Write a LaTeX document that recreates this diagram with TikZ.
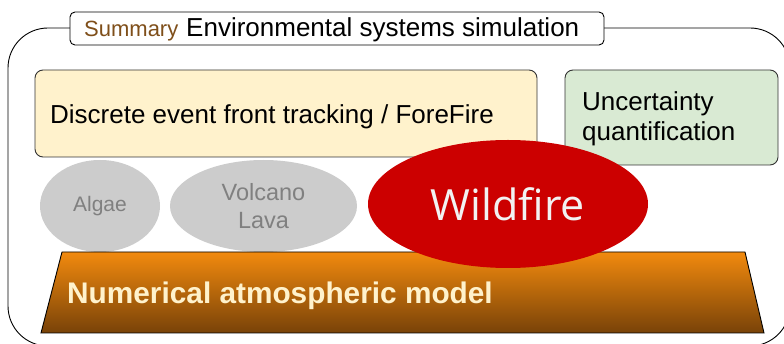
\documentclass[tikz,border=0pt]{standalone}
\usepackage{fontspec}
\setmainfont{Liberation Sans}
\newfontfamily\wildfont{Open Sans}
\usetikzlibrary{shapes.geometric}
\definecolor{sumbrown}{HTML}{7F4F1A}
\definecolor{yelfill}{HTML}{FFF2CC}
\definecolor{grnfill}{HTML}{D9EAD3}
\definecolor{grayfill}{HTML}{CCCCCC}
\definecolor{graytext}{HTML}{808080}
\definecolor{firered}{HTML}{CC0000}
\definecolor{trtop}{HTML}{F28A0E}
\definecolor{trbot}{HTML}{784208}
\definecolor{boxline}{HTML}{333333}
\tikzset{
  panel/.style={draw=boxline, line width=0.9pt, rounded corners=8pt, inner sep=0pt},
  blob/.style={ellipse, inner sep=0pt, draw=none, align=center},
  lbl/.style={inner sep=0pt, anchor=base west, align=left},
}
\begin{document}
\begin{tikzpicture}[x=1pt,y=-1pt]
\useasboundingbox (0,0) rectangle (784,344);
% outer container
\draw[line width=0.9pt, rounded corners=40pt] (8,28) rectangle (790,346);
% title
\node[draw=black, line width=0.9pt, fill=white, rounded corners=5pt, minimum width=534pt, minimum height=33pt, inner sep=0pt] (title) at (337,28.5) {};
\node[lbl, text=sumbrown, font=\fontsize{22}{24}\selectfont] (sum) at (84,37) {Summary};
\node[lbl, font=\fontsize{26}{28}\selectfont] (env) at (186,37) {Environmental systems simulation};
% top boxes
\node[panel, fill=yelfill, minimum width=502pt, minimum height=87pt] (ff) at (286,113.5) {};
\node[lbl, font=\fontsize{26}{28}\selectfont] (fftext) at (50,124) {Discrete event front tracking / ForeFire};
\node[panel, fill=grnfill, minimum width=213pt, minimum height=95pt] (uq) at (671.5,117.5) {};
\node[lbl, font=\fontsize{26}{30}\selectfont] (uqtext) at (582,141) {Uncertainty\\quantification};
% gray ellipses
\node[blob, fill=grayfill, minimum width=120pt, minimum height=92pt, text=graytext, font=\fontsize{21}{24}\selectfont] (algae) at (100,206) {Algae};
\node[blob, fill=grayfill, minimum width=187pt, minimum height=92pt, text=graytext, font=\fontsize{23.5}{28}\selectfont] (lava) at (263.5,206) {Volcano\\Lava};
% trapezoid
\coordinate (tl) at (62,252);
\coordinate (tr) at (745,252);
\coordinate (br) at (764,333);
\coordinate (bl) at (41,333);
\shade[top color=trtop, bottom color=trbot] (tl) -- (tr) -- (br) -- (bl) -- cycle;
\draw[line width=0.9pt, line join=miter] (tl) -- (tr) -- (br) -- (bl) -- cycle;
\node[lbl, text=yelfill, font=\fontsize{29.8}{32}\selectfont\bfseries] (nam) at (67,304) {Numerical atmospheric model};
% wildfire
\node[blob, fill=firered, minimum width=280pt, minimum height=128pt, text=white!95!black, font=\fontsize{43}{46}\selectfont\wildfont] (fire) at (508,204) {Wildfire};
\end{tikzpicture}
\end{document}
